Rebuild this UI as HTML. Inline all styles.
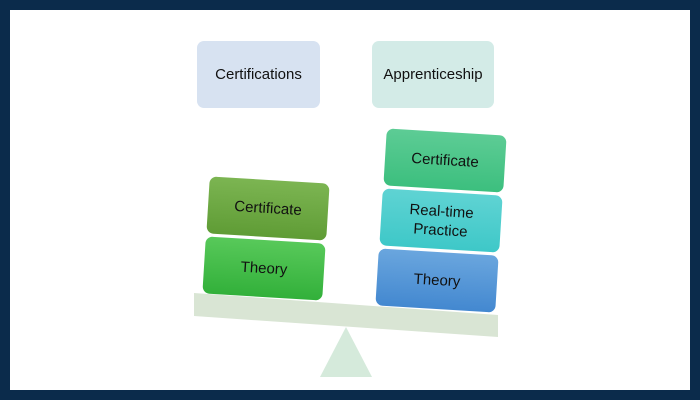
<!DOCTYPE html>
<html><head><style>
body{margin:0;width:700px;height:400px;background:#0b2b4b;position:relative;overflow:hidden;font-family:"Liberation Sans",sans-serif}
.in{position:absolute;left:10px;top:10px;width:680px;height:380px;background:#fff}
.b{position:absolute;display:flex;align-items:center;justify-content:center;text-align:center;font-size:15px;color:#111;border-radius:7px;line-height:19px}
.r{transform:rotate(3.5deg);width:120px;height:57px;margin-left:-60px;margin-top:-28px}
</style></head><body>
<div class="in"></div>
<div class="b" style="left:197px;top:41px;width:123px;height:67px;background:#d7e2f1">Certifications</div>
<div class="b" style="left:372px;top:41px;width:122px;height:67px;background:#d3ebe7">Apprenticeship</div>
<svg style="position:absolute;left:0;top:0" width="700" height="400">
<polygon points="194,293 498,315 498,337 194,316" fill="#d9e5d4"/>
<polygon points="346,327 372,377 320,377" fill="#d5eadb"/>
</svg>
<div class="b r" style="left:268px;top:208px;background:linear-gradient(#7cb552,#5f9c35)">Certificate</div>
<div class="b r" style="left:264px;top:268px;background:linear-gradient(#58c95a,#32b03a)">Theory</div>
<div class="b r" style="left:445px;top:160px;background:linear-gradient(#5dcc95,#3cbf7e)">Certificate</div>
<div class="b r" style="left:441px;top:220px;background:linear-gradient(#5fd3d3,#3ec8c8)">Real-time<br>Practice</div>
<div class="b r" style="left:437px;top:280px;background:linear-gradient(#6aa6de,#4388d0)">Theory</div>
</body></html>
